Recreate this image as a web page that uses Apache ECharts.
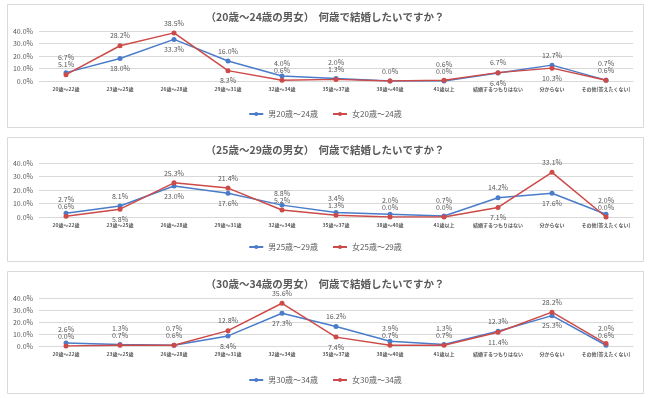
<!DOCTYPE html>
<html>
<head>
<meta charset="utf-8">
<script src="https://cdn.jsdelivr.net/npm/echarts@6/dist/echarts.min.js"></script>
<style>
html,body{margin:0;padding:0;background:#fff;}
#c{width:650px;height:398px;}
</style>
</head>
<body>
<div id="c"></div>
<script>
const categories = ['20歳〜22歳','23歳〜25歳','26歳〜28歳','29歳〜31歳','32歳〜34歳','35歳〜37歳','38歳〜40歳','41歳以上','結婚するつもりはない','分からない','その他(答えたくない)'];
const male20   = [6.7,18.0,33.3,16.0,4.0,2.0,0.0,0.0,6.4,12.7,0.7];
const female20 = [5.1,28.2,38.5,8.3,0.6,1.3,0.0,0.6,6.7,10.3,0.6];
const male25   = [2.7,8.1,23.0,17.6,8.8,3.4,2.0,0.7,14.2,17.6,2.0];
const female25 = [0.6,5.8,25.3,21.4,5.2,1.3,0.0,0.0,7.1,33.1,0.0];
const male30   = [2.6,1.3,0.7,8.4,27.3,16.2,3.9,1.3,12.3,25.3,0.6];
const female30 = [0.0,0.7,0.6,12.8,35.6,7.4,0.7,0.7,11.4,28.2,2.0];
const titles = ['（20歳〜24歳の男女）','（25歳〜29歳の男女）','（30歳〜34歳の男女）'];
const titleTail = '何歳で結婚したいですか？';
const seriesNames = [['男20歳〜24歳','女20歳〜24歳'],['男25歳〜29歳','女25歳〜29歳'],['男30歳〜34歳','女30歳〜34歳']];
const yTicks = {min:0, max:40, interval:10};

const FONT = '"Noto Sans CJK JP", "Noto Sans", sans-serif';
const BLUE = '#4a7cc9';
const RED = '#cc4a48';
const TXT = '#595959';

const panels = [
  {box:[7,4,636,123], gridTop:31, gridH:50, titleY:15, legendY:115, m:male20, f:female20},
  {box:[7,137,636,124], gridTop:163, gridH:54, titleY:148, legendY:248, m:male25, f:female25},
  {box:[7,271,636,122], gridTop:298, gridH:48, titleY:282, legendY:381, m:male30, f:female30}
];

function buildData(vals, others, isMale, scale){
  return vals.map((v,i)=>{
    const o = others[i];
    let pos='top', dist=4, show=true;
    if (v === o) {
      show = isMale;
    } else if (v > o) {
      if (o < 5.5) dist = Math.max(4, 11 - (v-o)*scale);
    } else {
      pos = v < 5.5 ? 'top' : 'bottom';
    }
    return {value:v, label:{show:show, position:pos, distance:dist}};
  });
}

const option = {
  backgroundColor:'#fff',
  animation:false,
  textStyle:{fontFamily:FONT},
  graphic: panels.map(p=>({
    type:'rect', silent:true, z:-10,
    shape:{x:p.box[0]+0.5, y:p.box[1]+0.5, width:p.box[2], height:p.box[3]},
    style:{fill:'#fff', stroke:'#d9d9d9', lineWidth:1}
  })),
  title: panels.map((p,k)=>({
    text:'{b|'+titles[k]+'} {n|'+titleTail+'}',
    left:'center', top:p.titleY-7, padding:0,
    textStyle:{rich:{
      b:{fontSize:10.5, fontWeight:'bold', color:TXT, fontFamily:FONT},
      n:{fontSize:10.5, color:TXT, fontFamily:FONT}
    }}
  })),
  legend: panels.map((p,k)=>({
    data:seriesNames[k], left:'center', top:p.legendY-5, padding:0,
    itemWidth:14, itemHeight:5, itemGap:14,
    textStyle:{fontSize:8, color:TXT, fontFamily:FONT}
  })),
  grid: panels.map(p=>({left:39, right:17, top:p.gridTop, height:p.gridH})),
  xAxis: panels.map((p,k)=>({
    type:'category', gridIndex:k, data:categories, boundaryGap:true,
    axisLine:{show:true, lineStyle:{color:'#d9d9d9'}},
    axisTick:{show:false},
    axisLabel:{fontSize:5, color:TXT, margin:6, interval:0, fontFamily:FONT, fontWeight:'bold'}
  })),
  yAxis: panels.map((p,k)=>({
    type:'value', gridIndex:k, min:yTicks.min, max:yTicks.max, interval:yTicks.interval,
    axisLine:{show:false}, axisTick:{show:false},
    splitLine:{lineStyle:{color:'#d9d9d9'}},
    axisLabel:{fontSize:7, color:TXT, margin:6, formatter:v=>v.toFixed(1)+'%', fontFamily:FONT}
  })),
  series: []
};

panels.forEach((p,k)=>{
  const scale = p.gridH/(yTicks.max-yTicks.min);
  [[p.m,p.f,true,BLUE,0],[p.f,p.m,false,RED,1]].forEach(([vals,others,isMale,col,j])=>{
    option.series.push({
      type:'line', name:seriesNames[k][j], xAxisIndex:k, yAxisIndex:k,
      data:buildData(vals,others,isMale,scale),
      symbol:'circle', symbolSize:5,
      lineStyle:{width:1.5, color:col},
      itemStyle:{color:col},
      label:{show:true, fontSize:7, color:TXT, fontFamily:FONT, formatter:d=>d.value.toFixed(1)+'%'},
      z: j+2
    });
  });
});

const chart = echarts.init(document.getElementById('c'), null, {renderer:'canvas'});
chart.setOption(option);
</script>
</body>
</html>
